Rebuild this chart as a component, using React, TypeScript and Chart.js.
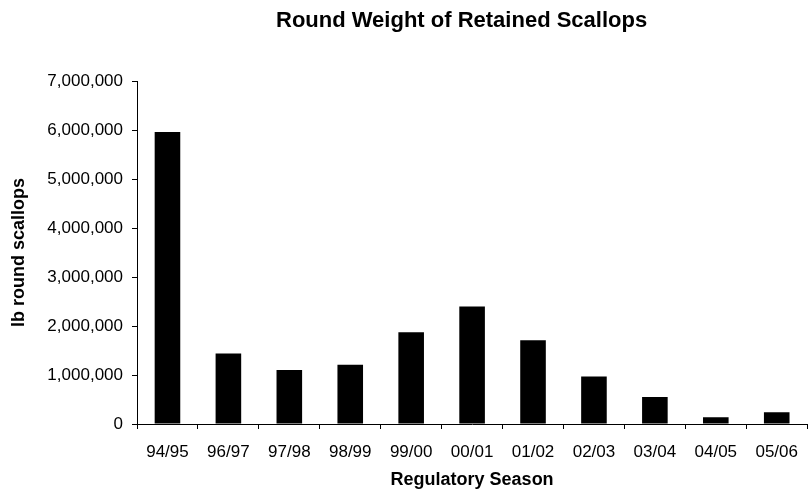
import { useEffect, useRef } from "react";
import { Chart, registerables } from "chart.js";

Chart.register(...registerables);

const categories = ["94/95", "96/97", "97/98", "98/99", "99/00", "00/01", "01/02", "02/03", "03/04", "04/05", "05/06"];
const roundWeightLb = [5960000, 1440000, 1100000, 1210000, 1870000, 2400000, 1710000, 970000, 550000, 140000, 240000];
const yTickValues = [0, 1000000, 2000000, 3000000, 4000000, 5000000, 6000000, 7000000];
const chartTitle = "Round Weight of Retained Scallops";
const xAxisTitle = "Regulatory Season";
const yAxisTitle = "lb round scallops";

const FONT = '"Liberation Sans", Arial, Helvetica, sans-serif';

export default function App() {
  const canvasRef = useRef<HTMLCanvasElement | null>(null);

  useEffect(() => {
    document.body.style.margin = "0";
    const canvas = canvasRef.current;
    if (!canvas) return;

    const titlePlugin = {
      id: "customTitle",
      afterDraw(chart: any) {
        const ctx = chart.ctx;
        ctx.save();
        ctx.font = `bold 22px ${FONT}`;
        ctx.fillStyle = "#000";
        ctx.textAlign = "left";
        ctx.textBaseline = "alphabetic";
        ctx.fillText(chartTitle, 276, 27);
        ctx.restore();
      },
    };

    const chart = new Chart(canvas, {
      type: "bar",
      data: {
        labels: categories,
        datasets: [
          {
            label: yAxisTitle,
            data: roundWeightLb,
            backgroundColor: "#000000",
            borderWidth: 0,
            barPercentage: 0.42,
            categoryPercentage: 1,
          },
        ],
      },
      options: {
        responsive: false,
        animation: false,
        layout: { padding: { top: 81, left: 0, right: 0, bottom: 0 } },
        plugins: {
          legend: { display: false },
          title: { display: false },
          tooltip: { enabled: false },
        },
        scales: {
          x: {
            offset: true,
            grid: {
              offset: true,
              drawOnChartArea: false,
              drawTicks: true,
              tickLength: 5,
              color: "#000",
            },
            border: { display: true, color: "#000", width: 1 },
            ticks: {
              color: "#000",
              font: { family: FONT, size: 17 },
              padding: 13,
              maxRotation: 0,
              autoSkip: false,
            },
            title: {
              display: true,
              text: xAxisTitle,
              color: "#000",
              font: { family: FONT, size: 18, weight: "bold" },
              padding: { top: 0, bottom: 3.5 },
            },
            afterFit(scale: any) {
              scale.height = 70;
            },
          },
          y: {
            min: 0,
            max: 7000000,
            afterBuildTicks(scale: any) {
              scale.ticks = yTickValues.map((v) => ({ value: v }));
            },
            grid: {
              drawOnChartArea: false,
              drawTicks: true,
              tickLength: 5,
              color: "#000",
            },
            border: { display: true, color: "#000", width: 1 },
            ticks: {
              color: "#000",
              font: { family: FONT, size: 17 },
              padding: 9,
              callback: (v: any) => Number(v).toLocaleString("en-US"),
            },
            title: {
              display: true,
              text: yAxisTitle,
              color: "#000",
              font: { family: FONT, size: 18, weight: "bold" },
              padding: { top: 8, bottom: 0 },
            },
            afterFit(scale: any) {
              scale.width = 137;
            },
          },
        },
      },
      plugins: [titlePlugin],
    });

    return () => chart.destroy();
  }, []);

  return (
    <div style={{ position: "absolute", left: 0, top: 0, width: 809, height: 494, overflow: "hidden", background: "#fff" }}>
      <canvas ref={canvasRef} width={811} height={494} style={{ display: "block" }} />
    </div>
  );
}
